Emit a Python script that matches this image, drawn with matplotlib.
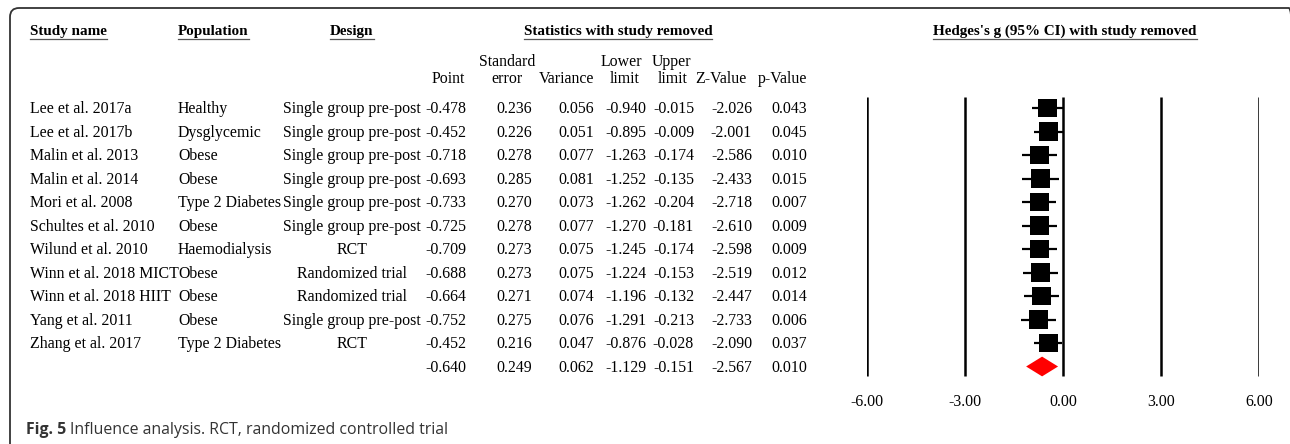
import matplotlib
matplotlib.use("Agg")
import matplotlib.pyplot as plt
from matplotlib.patches import FancyBboxPatch, Rectangle, Polygon
from matplotlib.lines import Line2D
from matplotlib.transforms import blended_transform_factory, IdentityTransform

studies = ["Lee et al. 2017a", "Lee et al. 2017b", "Malin et al. 2013", "Malin et al. 2014",
           "Mori et al. 2008", "Schultes et al. 2010", "Wilund et al. 2010",
           "Winn et al. 2018 MICT", "Winn et al. 2018 HIIT", "Yang et al. 2011",
           "Zhang et al. 2017", ""]
population = ["Healthy", "Dysglycemic", "Obese", "Obese", "Type 2 Diabetes", "Obese",
              "Haemodialysis", "Obese", "Obese", "Obese", "Type 2 Diabetes", ""]
design = ["Single group pre-post", "Single group pre-post", "Single group pre-post",
          "Single group pre-post", "Single group pre-post", "Single group pre-post",
          "RCT", "Randomized trial", "Randomized trial", "Single group pre-post", "RCT", ""]
point = [-0.478, -0.452, -0.718, -0.693, -0.733, -0.725, -0.709, -0.688, -0.664, -0.752, -0.452, -0.640]
std_err = [0.236, 0.226, 0.278, 0.285, 0.270, 0.278, 0.273, 0.273, 0.271, 0.275, 0.216, 0.249]
variance = [0.056, 0.051, 0.077, 0.081, 0.073, 0.077, 0.075, 0.075, 0.074, 0.076, 0.047, 0.062]
lower = [-0.940, -0.895, -1.263, -1.252, -1.262, -1.270, -1.245, -1.224, -1.196, -1.291, -0.876, -1.129]
upper = [-0.015, -0.009, -0.174, -0.135, -0.204, -0.181, -0.174, -0.153, -0.132, -0.213, -0.028, -0.151]
z_value = [-2.026, -2.001, -2.586, -2.433, -2.718, -2.610, -2.598, -2.519, -2.447, -2.733, -2.090, -2.567]
p_value = [0.043, 0.045, 0.010, 0.015, 0.007, 0.009, 0.009, 0.012, 0.014, 0.006, 0.037, 0.010]
ticks = [-6, -3, 0, 3, 6]
tick_labels = ["-6.00", "-3.00", "0.00", "3.00", "6.00"]

W, H = 1290, 444
SERIF = "Liberation Serif"
FS = 11.4
FS_B = 10.9

fig = plt.figure(figsize=(W / 100, H / 100), dpi=100)

def fx(px):
    return px / W

def fy(py):
    return 1 - py / H

# forest plot axes, rows are indexed 0..n-1 from the top
row0, step = 108, 23.5
ax_top, ax_bot = 90, 380
ax = fig.add_axes([fx(867), fy(ax_bot), fx(1259) - fx(867), (ax_bot - ax_top) / H])
ax.set_xlim(-6, 6)
ax.set_ylim((ax_bot - row0) / step, (ax_top - row0) / step)
for s in ax.spines.values():
    s.set_visible(False)
ax.set_yticks([])
ax.set_xticks(ticks)
ax.set_xticklabels(tick_labels, fontfamily=SERIF, fontsize=FS)
ax.tick_params(axis="x", length=0, pad=10)
ax.patch.set_visible(False)

ax.vlines(ticks, (97 - row0) / step, (376 - row0) / step, color="black", lw=1.8)

n = len(point)
sq_w = 0.58  # data units
sq_h = 0.77  # rows
for i in range(n - 1):
    ax.plot([lower[i], upper[i]], [i, i], color="black", lw=1.6, solid_capstyle="butt", zorder=3)
    ax.add_patch(Rectangle((point[i] - sq_w / 2, i - sq_h / 2), sq_w, sq_h,
                           facecolor="black", edgecolor="none", zorder=4))
k = n - 1
ax.add_patch(Polygon([[lower[k], k], [point[k], k - 0.42], [upper[k], k], [point[k], k + 0.42]],
                     closed=True, facecolor="#ff0000", edgecolor="none", zorder=4))

# table text: x in figure fraction, y in row units of the forest axes
tr = blended_transform_factory(fig.transFigure, ax.transData)
txt = dict(fontfamily=SERIF, fontsize=FS, va="center", transform=tr)
cols = [(point, 466), (std_err, 532), (variance, 594), (lower, 646),
        (upper, 694), (z_value, 752), (p_value, 807)]
for i in range(n):
    y = i + 0.05
    fig.text(fx(30), y, studies[i], ha="left", **txt)
    fig.text(fx(178), y, population[i], ha="left", **txt)
    fig.text(fx(352), y, design[i], ha="center", **txt)
    for vals, xr in cols:
        fig.text(fx(xr), y, "%.3f" % vals[i], ha="right", **txt)

# column headers
hd = dict(fontfamily=SERIF, fontsize=FS, va="center")
fig.text(fx(465), fy(79), "Point", ha="right", **hd)
fig.text(fx(507), fy(62), "Standard", ha="center", **hd)
fig.text(fx(507), fy(79), "error", ha="center", **hd)
fig.text(fx(594), fy(79), "Variance", ha="right", **hd)
fig.text(fx(621), fy(62), "Lower", ha="center", **hd)
fig.text(fx(625), fy(79), "limit", ha="center", **hd)
fig.text(fx(672), fy(62), "Upper", ha="center", **hd)
fig.text(fx(673), fy(79), "limit", ha="center", **hd)
fig.text(fx(747), fy(79), "Z-Value", ha="right", **hd)
fig.text(fx(807), fy(79), "p-Value", ha="right", **hd)

bd = dict(fontfamily=SERIF, fontsize=FS_B, va="center", fontweight="bold")
titles = [fig.text(fx(30), fy(31), "Study name", ha="left", **bd),
          fig.text(fx(178), fy(31), "Population", ha="left", **bd),
          fig.text(fx(352), fy(31), "Design", ha="center", **bd),
          fig.text(fx(618), fy(31), "Statistics with study removed", ha="center", **bd),
          fig.text(fx(1065), fy(31), "Hedges's g (95% CI) with study removed", ha="center", **bd)]

fig.canvas.draw()
r = fig.canvas.get_renderer()
for t in titles:
    bb = t.get_window_extent(r)
    fig.add_artist(Line2D([fx(bb.x0), fx(bb.x1)], [fy(38.5), fy(38.5)],
                          transform=fig.transFigure, color="#555555", lw=0.9))

# caption
cap1 = fig.text(fx(26), fy(430), "Fig. 5", fontfamily="Open Sans", fontweight="bold",
                fontsize=11.4, color="#333333", va="center", ha="left")
fig.canvas.draw()
bb = cap1.get_window_extent(r)
fig.text(bb.x1 / W + fx(4), fy(430), "Influence analysis. RCT, randomized controlled trial",
         fontfamily="Open Sans", fontsize=11.4, color="#333333", va="center", ha="left")

# rounded frame around the figure, right and bottom sides fall off the canvas
frame = FancyBboxPatch((10, -30), 1288, H - 8 + 30, boxstyle="round,pad=0,rounding_size=9",
                       transform=IdentityTransform(), facecolor="none",
                       edgecolor="#333333", lw=1.3)
fig.add_artist(frame)

fig.savefig("out.png", dpi=100)
